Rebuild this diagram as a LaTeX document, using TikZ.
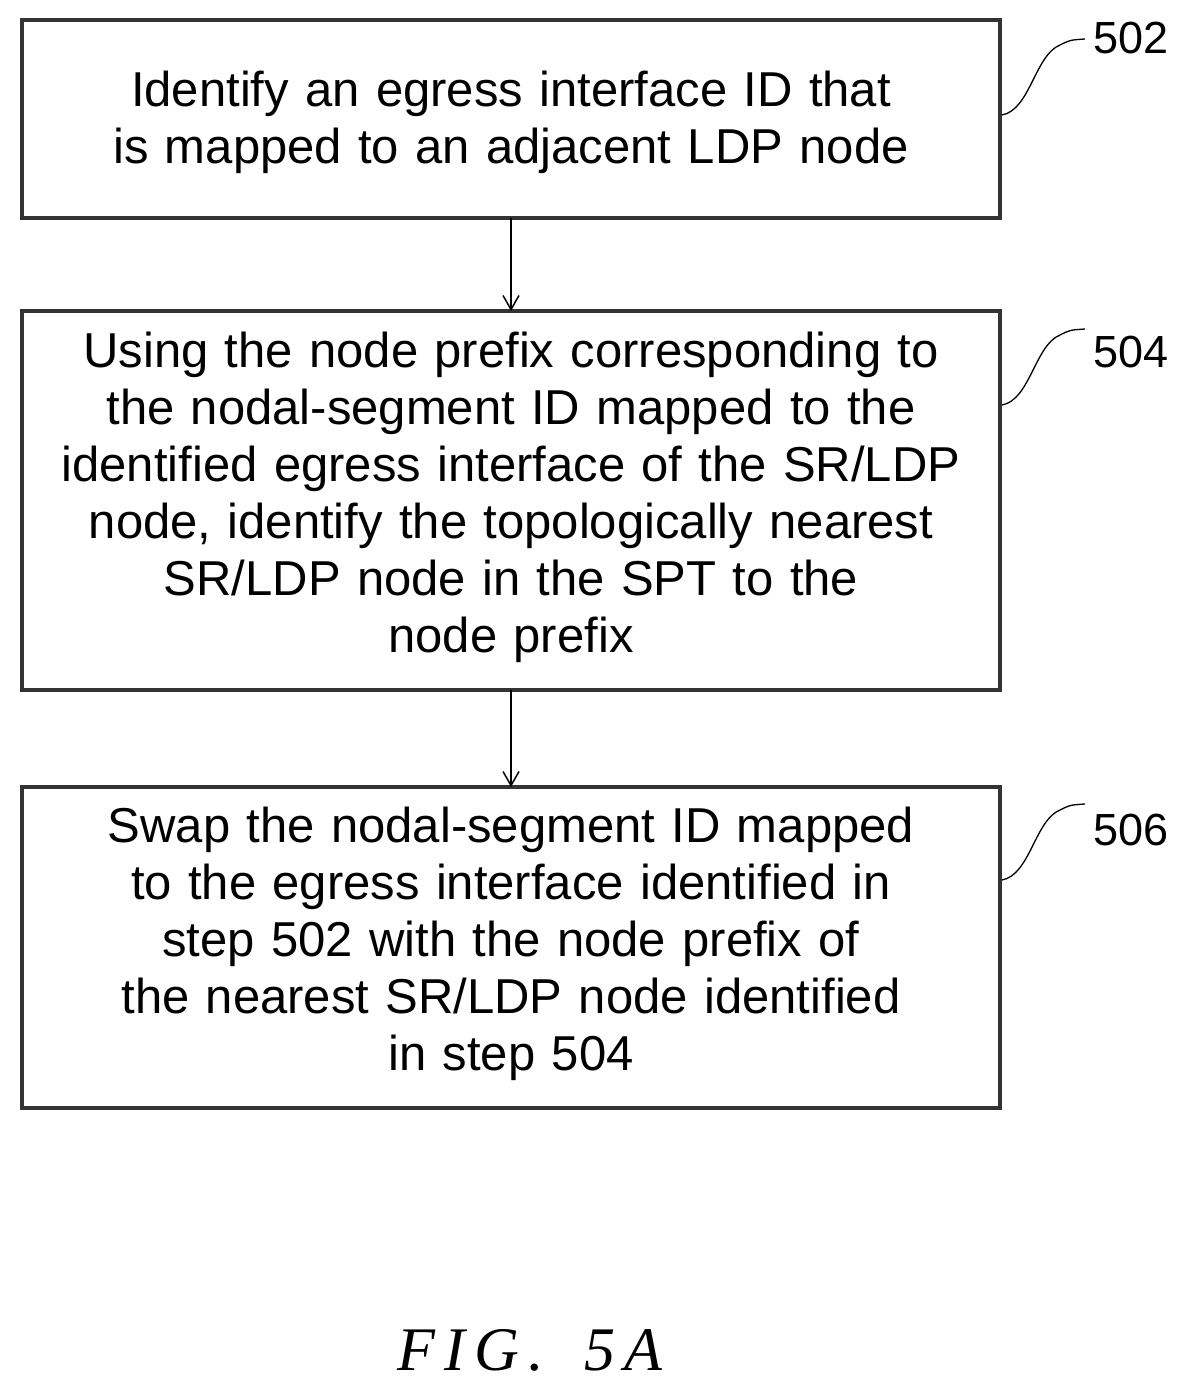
\documentclass[tikz,border=0pt]{standalone}
\usepackage{fontspec}
\setmainfont{Liberation Sans}
\newfontfamily\capfont[LetterSpace=15]{Liberation Serif}
\usetikzlibrary{arrows.meta}
\begin{document}
\begin{tikzpicture}[x=1pt,y=-1pt,
  boxs/.style={draw=black!80,line width=3.5pt,inner sep=0pt},
  txt/.style={align=center,font=\fontsize{49}{57}\selectfont,text width=970pt},
  lbl/.style={font=\fontsize{45}{50}\selectfont},
  conn/.style={line width=1.5pt,-{Straight Barb[length=14pt,width=16pt,line width=1.5pt]}},
  squig/.style={line width=1.3pt}]
\useasboundingbox (0,0) rectangle (1197,1393);
\draw[boxs] (22,20) rectangle (1000,218);
\draw[boxs] (22,311) rectangle (1000,690);
\draw[boxs] (22,787) rectangle (1000,1108);
\coordinate (b1t) at (511,20); \coordinate (b1b) at (511,218);
\coordinate (b2t) at (511,311); \coordinate (b2b) at (511,690);
\coordinate (b3t) at (511,787);
\node[txt] (t1) at (511,122) {Identify an egress interface ID that\\is mapped to an adjacent LDP node};
\node[txt] (t2) at (511,497) {Using the node prefix corresponding to\\the nodal-segment ID mapped to the\\identified egress interface of the SR/LDP\\node, identify the topologically nearest\\SR/LDP node in the SPT to the\\node prefix};
\node[txt] (t3) at (511,944) {Swap the nodal-segment ID mapped\\to the egress interface identified in\\step 502 with the node prefix of\\the nearest SR/LDP node identified\\in step 504};
\draw[conn] (b1b) -- (b2t);
\draw[conn] (b2b) -- (b3t);
\node[lbl,anchor=west] (l1) at (1090,38) {502};
\node[lbl,anchor=west] (l2) at (1090,352) {504};
\node[lbl,anchor=west] (l3) at (1090,830) {506};
\foreach \y/\n in {115/l1,405/l2,880/l3}{
  \draw[squig] (1002,\y) .. controls (1030,\y-5) and (1035,\y-60) .. (1060,\y-70) .. controls (1070,\y-75) .. (1085,\y-76);
}
\node[font=\fontsize{62}{66}\capfont\itshape] (cap) at (530,1350) {FIG.\hspace{40pt}5A};
\end{tikzpicture}
\end{document}
